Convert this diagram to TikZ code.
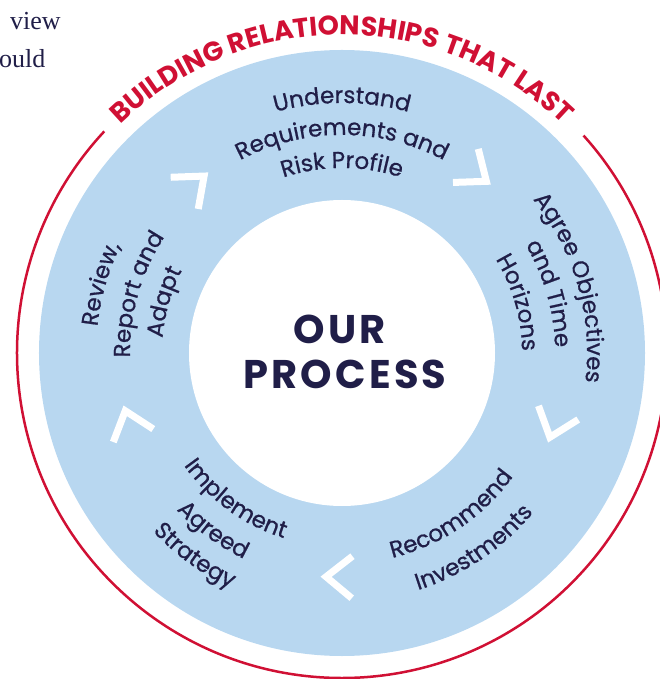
\documentclass[tikz,border=0pt]{standalone}
\usepackage{fontspec}
\setmainfont{Poppins}
\newfontfamily\lblfam{Poppins}[FakeBold=0.7]
\newfontfamily\pageserif{Liberation Serif}
\usetikzlibrary{decorations.text}
\definecolor{ringblue}{RGB}{184,215,240}
\definecolor{ringred}{RGB}{208,16,52}
\definecolor{navy}{RGB}{32,30,72}
\newcommand\lblfont{\lblfam\fontsize{23}{23}\selectfont\color{navy}}
\newcommand\redfont{\fontsize{27}{27}\selectfont\bfseries\addfontfeatures{LetterSpace=1.5}\color{ringred}}
\tikzset{
  cw/.style={decorate,decoration={text along path,text align=center,text={|\lblfont|#1}}},
  chevron/.style={draw=white,line width=7pt,miter limit=10}
}
\begin{document}
\begin{tikzpicture}[x=1pt,y=1pt]
\useasboundingbox (-342,-326) rectangle (317,353);
\fill[ringblue] (0,0) circle[radius=303];
\fill[white] (0,0) circle[radius=153];
\draw[ringred,line width=2.5pt] (137:325) arc[start angle=137,end angle=402,radius=325];
\path[decorate,decoration={text along path,text align=center,
  text={|\redfont|BUILDING RELATIONSHIPS THAT LAST}}]
  (160:318) arc[start angle=160,end angle=20,radius=318];
\foreach \a in {131,53,-19,-91,-162}
  \draw[chevron,shift={(\a:224)},rotate=\a+90] (14,21) -- (-12,0) -- (14,-21);
\path[cw={Understand}] (150:250) arc[start angle=150,end angle=30,radius=250];
\path[cw={Requirements and}] (150:218) arc[start angle=150,end angle=30,radius=218];
\path[cw={Risk Profile}] (150:185) arc[start angle=150,end angle=30,radius=185];
\path[cw={Agree Objectives}] (76:245) arc[start angle=76,end angle=-44,radius=245];
\path[cw={and Time}] (76:213) arc[start angle=76,end angle=-44,radius=213];
\path[cw={Horizons}] (76:180) arc[start angle=76,end angle=-44,radius=180];
\path[cw={Recommend}] (-116:211) arc[start angle=-116,end angle=4,radius=211];
\path[cw={Investments}] (-116:249) arc[start angle=-116,end angle=4,radius=249];
\path[cw={Implement}] (-186:194) arc[start angle=-186,end angle=-66,radius=194];
\path[cw={Agreed}] (-186:228) arc[start angle=-186,end angle=-66,radius=228];
\path[cw={Strategy}] (-186:260) arc[start angle=-186,end angle=-66,radius=260];
\path[cw={Review,}] (224:246) arc[start angle=224,end angle=104,radius=246];
\path[cw={Report and}] (224:212) arc[start angle=224,end angle=104,radius=212];
\path[cw={Adapt}] (224:180) arc[start angle=224,end angle=104,radius=180];
\node[text=navy,font=\fontsize{40}{40}\selectfont\bfseries\addfontfeatures{LetterSpace=8}] (our) at (-2,24) {OUR};
\node[text=navy,font=\fontsize{40}{40}\selectfont\bfseries\addfontfeatures{LetterSpace=8}] (process) at (3,-21) {PROCESS};
\node[anchor=base west,inner sep=0pt,text=navy,font=\pageserif\fontsize{26}{26}\selectfont] (view) at (-332,323) {view};
\node[anchor=base west,inner sep=0pt,text=navy,font=\pageserif\fontsize{26}{26}\selectfont] (ould) at (-343,285) {ould};
\end{tikzpicture}
\end{document}
